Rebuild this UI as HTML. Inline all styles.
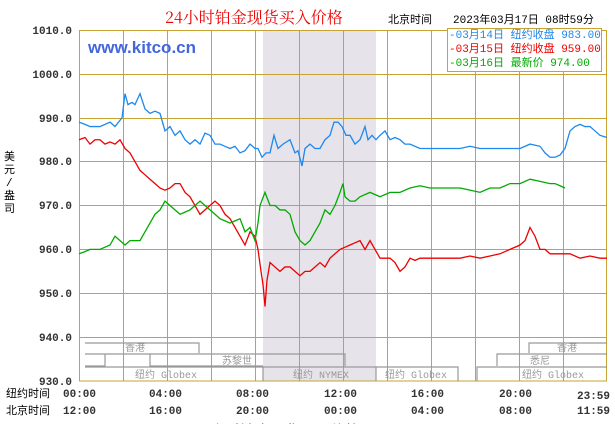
<!DOCTYPE html>
<html><head><meta charset="utf-8"><style>
body{margin:0;background:#fff;width:615px;height:424px;overflow:hidden}
svg text{font-family:"Liberation Mono","WenQuanYi Zen Hei",monospace}
</style></head><body>
<svg width="615" height="424" xmlns="http://www.w3.org/2000/svg">
<rect x="263" y="30" width="113" height="351" fill="#e6e4ea"/>
<g stroke="#c8a233" stroke-width="1">
<rect x="79.5" y="30.5" width="527" height="350.5" fill="none"/>
<line x1="79" x2="607" y1="74.5" y2="74.5"/><line x1="79" x2="607" y1="118.5" y2="118.5"/>
<line x1="79" x2="607" y1="161.5" y2="161.5"/><line x1="79" x2="607" y1="205.5" y2="205.5"/>
<line x1="79" x2="607" y1="249.5" y2="249.5"/><line x1="79" x2="607" y1="293.5" y2="293.5"/>
<line x1="79" x2="607" y1="337.5" y2="337.5"/>
<line x1="123.5" x2="123.5" y1="30" y2="381"/><line x1="167.5" x2="167.5" y1="30" y2="381"/>
<line x1="211.5" x2="211.5" y1="30" y2="381"/><line x1="255.5" x2="255.5" y1="30" y2="381"/>
<line x1="299.5" x2="299.5" y1="30" y2="381"/><line x1="343.5" x2="343.5" y1="30" y2="381"/>
<line x1="387.5" x2="387.5" y1="30" y2="381"/><line x1="431.5" x2="431.5" y1="30" y2="381"/>
<line x1="475.5" x2="475.5" y1="30" y2="381"/><line x1="519.5" x2="519.5" y1="30" y2="381"/>
<line x1="563.5" x2="563.5" y1="30" y2="381"/>
</g>
<g font-size="11" font-weight="bold" fill="#333" text-anchor="end">
<text x="72" y="34">1010.0</text><text x="72" y="78">1000.0</text><text x="72" y="122">990.0</text>
<text x="72" y="165">980.0</text><text x="72" y="209">970.0</text><text x="72" y="253">960.0</text>
<text x="72" y="297">950.0</text><text x="72" y="341">940.0</text><text x="72" y="385">930.0</text>
</g>
<text x="4" y="160" font-size="11" fill="#000">美</text><text x="4" y="173" font-size="11">元</text>
<text x="6" y="186" font-size="11">/</text><text x="4" y="199" font-size="11">盎</text><text x="4" y="212" font-size="11">司</text>
<text x="165" y="23" font-size="16" fill="#e00" style="font-family:'Noto Serif CJK SC',serif">24小时铂金现货买入价格</text>
<text x="388" y="23" font-size="11" fill="#000">北京时间</text>
<text x="453" y="23" font-size="11" fill="#000">2023年03月17日 08时59分</text>
<text x="88" y="53" font-size="17" font-weight="bold" fill="#4466dd" style="font-family:'Liberation Sans',sans-serif">www.kitco.cn</text>
<rect x="447.5" y="28.5" width="154" height="43" fill="#fff" stroke="#c8a233"/>
<g font-size="11">
<text x="449" y="38" fill="#1e88ee">-03月14日 纽约收盘 983.00</text>
<text x="449" y="52" fill="#e00">-03月15日 纽约收盘 959.00</text>
<text x="449" y="66" fill="#00aa00">-03月16日   最新价 974.00</text>
</g>
<g fill="none" stroke="#999" stroke-width="1.2">
<polyline points="85,343 199,343 199,353"/><polyline points="85,354 345,354 345,366"/>
<polyline points="105,354 105,366 85,366"/><polyline points="150,354 150,366 263,366"/>
<polyline points="85,367 263,367 263,381"/><polyline points="263,367 376,367 376,381"/>
<polyline points="376,367 458,367 458,381"/><polyline points="477,381 477,367 607,367"/>
<polyline points="529,353 529,343 607,343"/><polyline points="497,366 497,354 607,354"/>
</g>
<g font-size="10" fill="#999" style="font-family:'Liberation Sans','WenQuanYi Zen Hei',sans-serif">
<text x="125" y="351">香港</text><text x="222" y="364">苏黎世</text>
<text x="135" y="378">纽约 Globex</text><text x="293" y="378">纽约 NYMEX</text>
<text x="385" y="378">纽约 Globex</text><text x="522" y="378">纽约 Globex</text>
<text x="557" y="351">香港</text><text x="530" y="364">悉尼</text>
</g>
<g font-size="11" font-weight="bold" fill="#333">
<text x="6" y="397" font-weight="normal" fill="#000">纽约时间</text>
<text x="6" y="414" font-weight="normal" fill="#000">北京时间</text>
<text x="63" y="397">00:00</text><text x="149" y="397">04:00</text><text x="236" y="397">08:00</text>
<text x="324" y="397">12:00</text><text x="411" y="397">16:00</text><text x="499" y="397">20:00</text><text x="577" y="399">23:59</text>
<text x="63" y="414">12:00</text><text x="149" y="414">16:00</text><text x="236" y="414">20:00</text>
<text x="324" y="414">00:00</text><text x="411" y="414">04:00</text><text x="499" y="414">08:00</text><text x="577" y="414">11:59</text>
</g>
<text x="192" y="436" font-size="15" fill="#c00">24小时铂金现货买入价格</text>
<g transform="translate(0,4461.4) scale(1,-4.3875)" fill="none" stroke-width="1.3">
<polyline vector-effect="non-scaling-stroke" stroke="#1e88ee" points="79,989 85,988.5 90,988 100,988 110,989 115,988 122,990 125,995.5 128,993 132,993.5 135,993 140,995.5 145,992 150,991 155,991.5 160,991 165,987 170,988 175,986 180,987 185,985 190,984 195,985 200,984 205,986.5 210,986 215,984 220,984 225,983.5 230,983 235,983.5 240,982 245,982.5 250,984 255,983 258,983 262,981 266,982 270,982 274,986 278,983 283,984 290,985 295,982 298,982.5 302,979 305,983 310,984 315,983 320,983 325,985 330,986 334,989 338,989 342,988 346,986 350,986 355,984 360,985 365,988 368,985 372,986 376,985 380,986 385,987 390,985 395,985.5 400,985 405,984 410,984 420,983 430,983 440,983 450,983 460,983 470,983.5 480,983 490,983 500,983 510,983 520,983 530,984 540,983.5 545,982 550,981 555,981 560,981.5 565,983 570,987 575,988 580,988.5 585,988 590,988 595,987 600,986 607,985.5"/>
<polyline vector-effect="non-scaling-stroke" stroke="#e00" points="79,985 85,985.5 90,984 95,985 100,985 105,984 110,984.5 115,984 120,985 125,983 130,982 135,980 140,978 145,977 150,976 155,975 160,974 165,973.5 170,974 175,975 180,975 185,973 190,972 195,970 200,968 205,969 210,970 215,971 220,970 225,968 230,967 235,965 240,963 245,961 250,964 255,963 258,960 261,955 263,952 265,947 267,953 270,957 275,956 280,955 285,956 290,956 295,955 300,954 305,955 310,955 315,956 320,957 325,956 330,958 335,959 340,960 345,960.5 350,961 355,961.5 360,962 365,960 370,962 375,960 380,958 385,958 390,958 395,957 400,955 405,956 410,958 415,957.5 420,958 430,958 440,958 450,958 460,958 470,958.5 480,958 490,958.5 500,959 510,960 520,961 525,962 530,965 535,963 540,960 545,960 550,959 560,959 570,959 580,958 590,958.5 600,958 607,958"/>
<polyline vector-effect="non-scaling-stroke" stroke="#00aa00" points="79,959 85,959.5 90,960 100,960 105,960.5 110,961 115,963 120,962 125,961 130,962 135,962 140,962 145,964 150,966 155,968 160,969 165,971 170,970 175,969 180,968 185,968.5 190,969 195,970 200,971 205,970 210,969 215,968 220,967 225,966.5 230,966 235,966.5 240,967 245,964 250,965 255,962 258,966 260,970 265,973 270,970 275,970 280,969 285,969 290,968 295,964 300,962 305,961 310,962 315,964 320,966 325,969 330,968 335,970 340,973 343,975 345,972 350,971 355,971 360,972 370,973 380,972 390,973 400,973 410,974 420,974.5 430,974 440,974 450,974 460,974 470,973.5 480,973 490,974 500,974 510,975 520,975 530,976 540,975.5 550,975 555,975 560,974.5 565,974"/>
</g>
</svg>
</body></html>
